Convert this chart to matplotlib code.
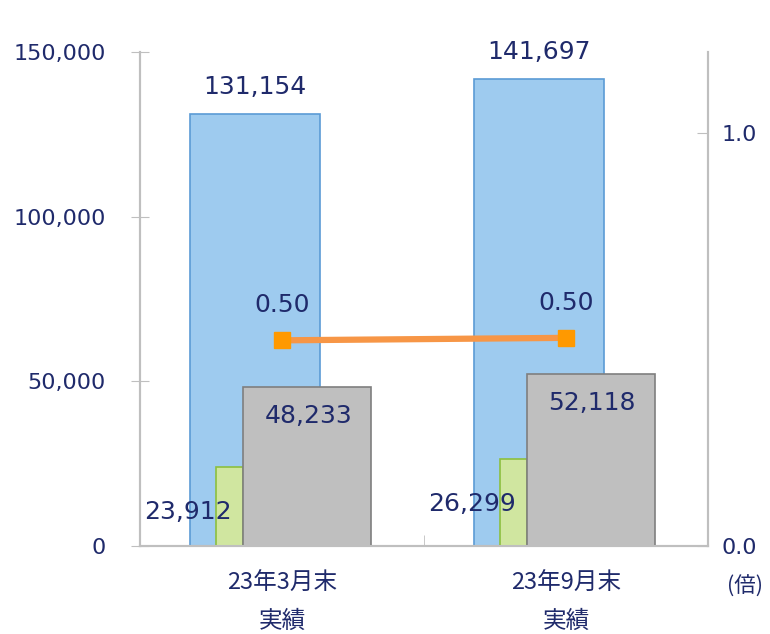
import matplotlib
matplotlib.use("Agg")
import matplotlib.pyplot as plt
import numpy as np

plt.rcParams['font.family'] = ['DejaVu Sans', 'Noto Sans CJK JP']

# data
categories = ["23年3月末\n実績", "23年9月末\n実績"]
blue_vals = [131154, 141697]
green_vals = [23912, 26299]
grey_vals = [48233, 52118]
ratio_vals = [0.498, 0.504]
ratio_labels = ["0.50", "0.50"]

navy = "#1F2A6B"
x = np.arange(len(categories))

fig = plt.figure(figsize=(7.7, 6.34), dpi=100)
ax = fig.add_axes([140 / 770, 88 / 634, 568 / 770, 494 / 634])
ax2 = ax.twinx()

# bars (left edge offsets within each category)
ax.bar(x - 0.324, blue_vals, width=0.458, align='edge', color="#9ECBEF",
       edgecolor="#5B9BD5", linewidth=1.2, zorder=2)
ax.bar(x - 0.232, green_vals, width=0.095, align='edge', color="#D0E6A0",
       edgecolor="#8CBF3F", linewidth=1.2, zorder=3)
ax.bar(x - 0.137, grey_vals, width=0.451, align='edge', color="#BFBFBF",
       edgecolor="#7F7F7F", linewidth=1.2, zorder=4)

for i in range(len(x)):
    ax.annotate(f"{blue_vals[i]:,}", (x[i] - 0.324 + 0.229, blue_vals[i]),
                xytext=(0, 27), textcoords='offset pixels', ha='center',
                va='center', fontsize=18, color=navy, zorder=6)
    ax.annotate(f"{grey_vals[i]:,}", (x[i] - 0.137 + 0.2255, grey_vals[i]),
                xytext=(1, -29), textcoords='offset pixels', ha='center',
                va='center', fontsize=18, color=navy, zorder=6)
    ax.annotate(f"{green_vals[i]:,}", (x[i] - 0.1845, green_vals[i]),
                xytext=(-42, -45), textcoords='offset pixels', ha='center',
                va='center', fontsize=18, color=navy, zorder=6)

ax.set_xlim(-0.5, 1.5)
ax.set_ylim(0, 150000)
ax.set_yticks([0, 50000, 100000, 150000])
ax.set_yticklabels(["0", "50,000", "100,000", "150,000"])
ax.set_xticks(x)
ax.set_xticklabels(categories, fontsize=17, color=navy, linespacing=1.78,
                   family=['Noto Sans CJK JP', 'DejaVu Sans'])
ax.set_xticks([0.5], minor=True)
ax.tick_params(axis='x', which='major', length=0, pad=19)
ax.tick_params(axis='x', which='minor', direction='in', length=8,
               color="#BFBFBF")
ax.tick_params(axis='y', direction='inout', length=13, color="#BFBFBF",
               labelsize=16, labelcolor=navy, pad=18)

# ratio line on right axis
ax2.plot(x, ratio_vals, color="#F79646", linewidth=4.5, zorder=5)
ax2.plot(x, ratio_vals, linestyle='none', marker='s', markersize=12,
         color="#FF9900", zorder=6)
for i in range(len(x)):
    ax2.annotate(ratio_labels[i], (x[i], ratio_vals[i]), xytext=(0, 35),
                 textcoords='offset pixels', ha='center', va='center',
                 fontsize=18, color=navy)
ax2.set_ylim(0, 494 / 413)
ax2.set_yticks([0.0, 1.0])
ax2.set_yticklabels(["0.0", "1.0"])
ax2.tick_params(axis='y', direction='in', length=8, color="#BFBFBF",
                labelsize=16, labelcolor=navy, pad=10)

for a in (ax, ax2):
    a.spines['top'].set_visible(False)
    for s in ('left', 'right', 'bottom'):
        a.spines[s].set_color("#BFBFBF")
        a.spines[s].set_linewidth(1.5)
ax2.patch.set_visible(False)

fig.text(745 / 770, 1 - 587 / 634, "(倍)", ha='center', va='center',
         fontsize=15.5, color=navy, family=['Noto Sans CJK JP', 'DejaVu Sans'])

fig.savefig("out.png", dpi=100)
